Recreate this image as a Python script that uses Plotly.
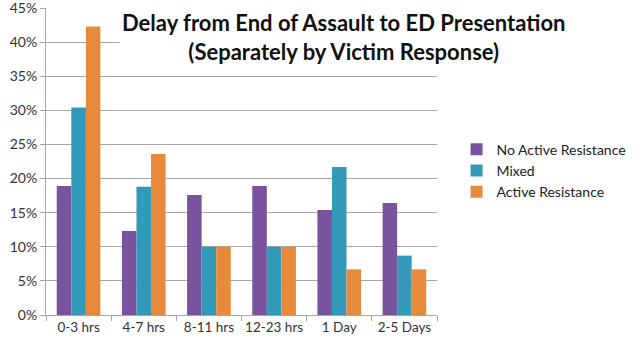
import plotly.graph_objects as go

categories = ["0-3 hrs", "4-7 hrs", "8-11 hrs", "12-23 hrs", "1 Day", "2-5 Days"]
no_active = [18.9, 12.3, 17.6, 18.9, 15.4, 16.4]
mixed = [30.4, 18.8, 10.0, 10.0, 21.7, 8.7]
active = [42.3, 23.6, 10.0, 10.0, 6.7, 6.7]
series_names = ["No Active Resistance", "Mixed", "Active Resistance"]
colors = ["#7A539E", "#3399B8", "#E88A3C"]
y_ticks = [0, 5, 10, 15, 20, 25, 30, 35, 40, 45]
y_tick_labels = [f"{v}%" for v in y_ticks]

fig = go.Figure()
for name, vals, col in zip(series_names, [no_active, mixed, active], colors):
    fig.add_trace(go.Bar(x=categories, y=vals, name=name, marker_color=col,
                         marker_line_width=0))

fig.update_layout(
    width=640, height=346,
    margin=dict(l=46, r=194, t=8, b=31),
    paper_bgcolor="white", plot_bgcolor="white",
    barmode="group", bargap=0.33, bargroupgap=0,
    font=dict(family="Lato, Open Sans, sans-serif", size=14, color="#333333"),
    legend=dict(x=1.05, y=0.47, xanchor="left", yanchor="middle",
                font=dict(size=14, color="#222222"), tracegroupgap=4,
                itemwidth=30, bgcolor="rgba(0,0,0,0)"),
    showlegend=True,
)
fig.update_xaxes(showgrid=False, showline=True, linecolor="#A6A6A6", linewidth=1,
                 ticks="outside", tickson="boundaries", ticklen=5, tickcolor="#A6A6A6",
                 tickangle=0, automargin=False,
                 tickfont=dict(size=13.5, color="#333333"))
fig.update_yaxes(range=[0, 45], tickvals=y_ticks, ticktext=y_tick_labels,
                 showgrid=True, gridcolor="#A6A6A6", gridwidth=1,
                 showline=True, linecolor="#A6A6A6", linewidth=1,
                 ticks="outside", ticklen=5, tickcolor="#A6A6A6",
                 ticklabeloverflow="allow", automargin=False,
                 tickfont=dict(size=14, color="#333333"), zeroline=False)

fig.add_annotation(
    text="<b>Delay from End of Assault to ED Presentation<br>(Separately by Victim Response)</b>",
    xref="paper", yref="paper", x=0.76, y=1.005, xanchor="center", yanchor="top",
    showarrow=False, align="center", bgcolor="white",
    font=dict(family="Lato, Open Sans, sans-serif", size=22, color="#111111"),
    borderpad=2,
)

fig.write_html("out.html")
